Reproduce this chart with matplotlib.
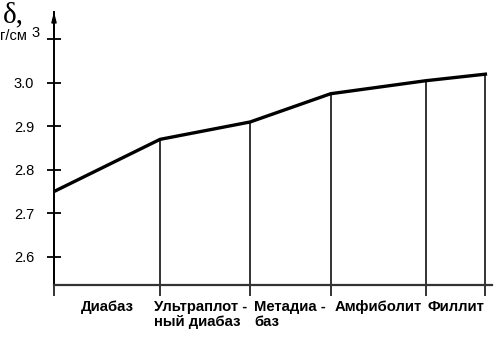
import matplotlib.pyplot as plt

# section boundaries along the profile (arbitrary units) and density there
bounds = [0.0, 1.0, 1.85, 2.61, 3.51, 4.07]
density = [2.75, 2.87, 2.91, 2.975, 3.005, 3.02]
rock_labels = ["Диабаз", "Ультраплот -\nный диабаз", "Метадиа -\nбаз",
               "Амфиболит", "Филлит"]
y_ticks = [2.6, 2.7, 2.8, 2.9, 3.0, 3.1]
y_ticklabels = ["2.6", "2.7", "2.8", "2.9", "3.0", ""]

W, H = 504, 337
fig = plt.figure(figsize=(W / 100, H / 100), dpi=100)
ax = fig.add_axes([54 / W, 1 - 285 / H, 438 / W, 273 / H])
ax.set_xlim(0, 438 / 106)
ax.set_ylim(2.535, 3.163)

for s in ["top", "right"]:
    ax.spines[s].set_visible(False)
ax.spines["left"].set_linewidth(1.4)
ax.spines["bottom"].set_linewidth(1.6)
ax.spines["bottom"].set_color("#333333")

# density curve
ax.plot(bounds, density, color="black", lw=2.4, solid_joinstyle="miter",
        zorder=3)

# vertical section lines, running down through the base line
y_low = 2.535 - 10 / 435
for xb, d in zip(bounds, density):
    ax.plot([xb, xb], [y_low, d], color="#333333", lw=1.4,
            clip_on=False, zorder=2)

# arrow on the y axis
ax.annotate("", xy=(0, 3.17), xytext=(0, 3.10), xycoords="data",
            arrowprops=dict(arrowstyle="-|>,head_width=0.15,head_length=0.6",
                            color="black", lw=1.0), annotation_clip=False)

ax.set_yticks(y_ticks)
ax.set_yticklabels(y_ticklabels, fontsize=10.5, family="Liberation Sans")
ax.tick_params(axis="y", direction="inout", length=9.5, width=1.3, pad=9.5)
ax.set_xticks([])

# rock labels between the section lines
label_x = [(bounds[0] + bounds[1]) / 2, bounds[1] - 0.06, bounds[2] + 0.04,
           (bounds[3] + bounds[4]) / 2, (bounds[4] + bounds[5]) / 2]
label_ha = ["center", "left", "left", "center", "center"]
for lx, ha, txt in zip(label_x, label_ha, rock_labels):
    ax.text(lx, 2.535 - 15 / 435, txt, ha=ha, va="top", fontsize=10.7,
            fontweight="bold", family="Liberation Sans", linespacing=1.05)

fig.text(3 / W, 1 - 22 / H, "δ,", fontsize=21, family="Liberation Serif",
         ha="left", va="baseline")
fig.text(0 / W, 1 - 40 / H, "г/см", fontsize=10.5, family="Liberation Sans",
         ha="left", va="baseline")
fig.text(31 / W, 1 - 37 / H, "3", fontsize=10.5, family="Liberation Sans",
         ha="left", va="baseline")

fig.savefig("out.png", dpi=100)
